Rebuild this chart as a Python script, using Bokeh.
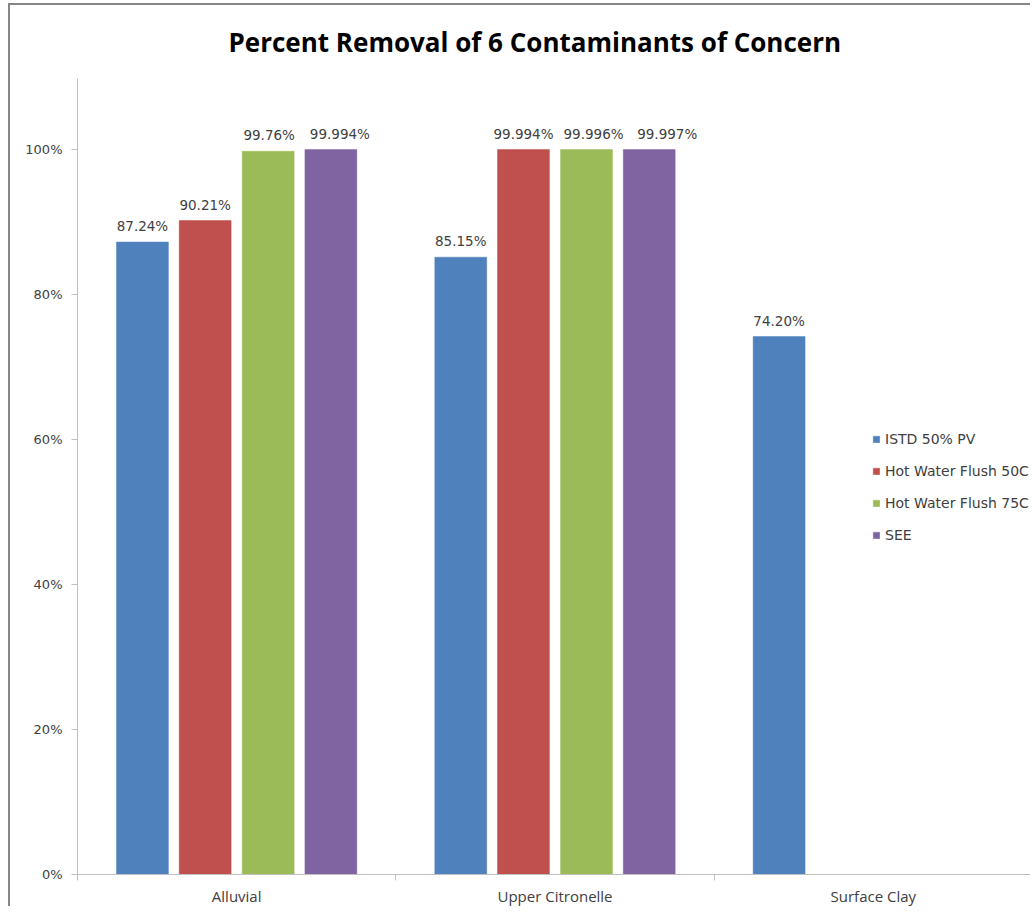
from bokeh.plotting import figure
from bokeh.models import (Range1d, FixedTicker, Legend, LegendItem, ColumnDataSource,
                          NumeralTickFormatter, Title, Text)
from bokeh.core.properties import value
from bokeh.embed import file_html
from bokeh.resources import INLINE

# ---------------- data ----------------
categories = ["Alluvial", "Upper Citronelle", "Surface Clay"]
series_names = ["ISTD 50% PV", "Hot Water Flush 50C", "Hot Water Flush 75C", "SEE"]
istd_values = [0.8724, 0.8515, 0.7420]
hwf50_values = [0.9021, 0.99994, None]
hwf75_values = [0.9976, 0.99996, None]
see_values = [0.99994, 0.99997, None]
istd_labels = ["87.24%", "85.15%", "74.20%"]
hwf50_labels = ["90.21%", "99.994%", None]
hwf75_labels = ["99.76%", "99.996%", None]
see_labels = ["99.994%", "99.997%", None]
y_ticks = [0.0, 0.2, 0.4, 0.6, 0.8, 1.0]
colors = ["#4F81BD", "#C0504D", "#9BBB59", "#8064A2"]

all_values = [istd_values, hwf50_values, hwf75_values, see_values]
all_labels = [istd_labels, hwf50_labels, hwf75_labels, see_labels]

# ---------------- layout ----------------
ML, MT, BW = 8, 3, 2           # page margin and chart border width
OX, OY = ML + BW, MT + BW      # canvas origin in page pixels
SLACK = 4                      # keep the page a little shorter than the window
W, H = 1032 - OX, 912 - OY - SLACK
FL, FR, FT, FB = 77, 1032, 78, 875   # frame edges in page pixels
X_MAX = len(categories)
Y_MAX = 1.098
offsets = [-0.296, -0.099, 0.099, 0.296]
bar_w = 0.163
# horizontal nudges (px) of the value labels, as placed in the original chart
label_nudges = [[0, 0, 0], [0, 0, 0], [1, 7, 0], [9, 18, 0]]

p = figure(width=W, height=H, output_backend="svg", toolbar_location=None,
           x_range=Range1d(0, X_MAX), y_range=Range1d(0, Y_MAX),
           min_border_left=FL - OX, min_border_right=0,
           min_border_top=FT - OY, min_border_bottom=912 - FB - SLACK)
p.styles = {"margin-left": f"{ML}px", "margin-top": f"{MT}px", "vertical-align": "top",
            "border-left": f"{BW}px solid #868686", "border-top": f"{BW}px solid #868686"}
p.outline_line_color = None
p.xgrid.grid_line_color = None
p.ygrid.grid_line_color = None
p.background_fill_color = "white"
p.border_fill_color = "white"

axis_color = "#BFBFBF"
text_color = "#404040"
label_font = "DejaVu Sans"

# y axis
p.yaxis.ticker = FixedTicker(ticks=y_ticks)
p.yaxis.formatter = NumeralTickFormatter(format="0%")
p.yaxis.axis_line_color = axis_color
p.yaxis.major_tick_line_color = axis_color
p.yaxis.major_tick_out = 6
p.yaxis.major_tick_in = 0
p.yaxis.minor_tick_line_color = None
p.yaxis.major_label_text_font = label_font
p.yaxis.major_label_text_font_size = "13px"
p.yaxis.major_label_text_color = text_color
p.yaxis.major_label_standoff = 9

# x axis: labels at category centres, ticks at category boundaries
centers = [i + 0.5 for i in range(len(categories))]
p.xaxis.ticker = FixedTicker(ticks=centers, minor_ticks=list(range(len(categories) + 1)))
p.xaxis.major_label_overrides = {c: name for c, name in zip(centers, categories)}
p.xaxis.axis_line_color = axis_color
p.xaxis.major_tick_line_color = None
p.xaxis.major_tick_out = 0
p.xaxis.major_tick_in = 0
p.xaxis.minor_tick_line_color = axis_color
p.xaxis.minor_tick_out = 6
p.xaxis.minor_tick_in = 0
p.xaxis.major_label_text_font = "Open Sans"
p.xaxis.major_label_text_font_size = "15px"
p.xaxis.major_label_text_color = text_color
p.xaxis.major_label_standoff = 5

# bars and value labels
items = []
for name, vals, labs, col, off, nud in zip(series_names, all_values, all_labels,
                                           colors, offsets, label_nudges):
    xs, tops, texts, dxs = [], [], [], []
    for i, (v, t) in enumerate(zip(vals, labs)):
        if v is None:
            continue
        xs.append(centers[i] + off)
        tops.append(v)
        texts.append(t)
        dxs.append(nud[i])
    src = ColumnDataSource(dict(x=xs, top=tops, text=texts, dx=dxs))
    r = p.vbar(x="x", top="top", width=bar_w, bottom=0, source=src,
               fill_color=col, line_color=col, line_width=0.5)
    p.add_glyph(src, Text(x="x", y="top", text="text", text_align="center",
                          text_baseline="bottom", x_offset="dx", y_offset=-8,
                          text_font_size=value("13.5px"), text_color=text_color,
                          text_font=value(label_font)))
    items.append(LegendItem(label=name, renderers=[r]))

legend = Legend(items=items, location=(795, 329), orientation="vertical",
                glyph_width=8, glyph_height=8, label_standoff=5, spacing=12,
                label_height=20, padding=0, margin=0,
                border_line_color=None, background_fill_alpha=0,
                label_text_font=label_font, label_text_font_size="14px",
                label_text_color=text_color)
p.add_layout(legend, "center")

# chart title
title = Title(text="Percent Removal of 6 Contaminants of Concern", align="left",
              offset=228 - FL, standoff=33, vertical_align="top", text_font="Open Sans",
              text_font_style="bold", text_font_size="26px", text_color="black")
p.add_layout(title, "above")

open("out.html", "w").write(file_html(p, INLINE))
